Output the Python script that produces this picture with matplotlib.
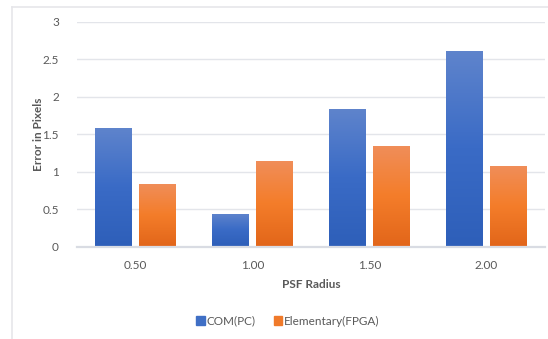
import numpy as np
import matplotlib
matplotlib.use("Agg")
import matplotlib.pyplot as plt
from matplotlib.colors import LinearSegmentedColormap
from matplotlib.patches import Rectangle

plt.rcParams['font.family'] = ['Lato', 'DejaVu Sans']

# PSF radius vs. centroid error
radius_labels = ["0.50", "1.00", "1.50", "2.00"]
com_pc = [1.59, 0.43, 1.84, 2.61]
elementary_fpga = [0.84, 1.14, 1.34, 1.08]

text_col = "#595959"
blue_cmap = LinearSegmentedColormap.from_list("blue_grad", ["#2e5fb9", "#3a6bc6", "#5f84cc"])
orange_cmap = LinearSegmentedColormap.from_list("orange_grad", ["#e2661a", "#f47d2a", "#f08e5a"])

fig = plt.figure(figsize=(5.48, 3.39), dpi=100)
ax = fig.add_axes([77 / 548, 1 - 246.5 / 339, 468 / 548, 224.5 / 339])

x = np.arange(len(radius_labels))
width = 0.315
offset = 0.19

grad = np.linspace(0, 1, 256).reshape(-1, 1)


def gradient_bars(xs, heights, cmap):
    bars = ax.bar(xs, heights, width, color="none", edgecolor="none", zorder=3)
    for b in bars:
        x0, y0 = b.get_x(), b.get_y()
        w, h = b.get_width(), b.get_height()
        im = ax.imshow(grad, extent=[x0, x0 + w, y0, y0 + h], origin="lower",
                       cmap=cmap, aspect="auto", zorder=3)
        clip = Rectangle((x0, y0), w, h, transform=ax.transData)
        im.set_clip_path(clip)
    return bars


gradient_bars(x - offset, com_pc, blue_cmap)
gradient_bars(x + offset, elementary_fpga, orange_cmap)

ax.set_xlim(-0.5, 3.5)
ax.set_ylim(0, 3)
ax.set_yticks([0, 0.5, 1, 1.5, 2, 2.5, 3])
ax.set_yticklabels(["0", "0.5", "1", "1.5", "2", "2.5", "3"])
ax.set_xticks(x)
ax.set_xticklabels(radius_labels)
ax.tick_params(axis="both", length=0, labelsize=8.5, colors=text_col)
ax.tick_params(axis="y", pad=13)
ax.tick_params(axis="x", pad=10)

ax.grid(axis="y", color="#e3e5ea", linewidth=1.0, zorder=0)
for s in ["top", "right", "left"]:
    ax.spines[s].set_visible(False)
ax.spines["bottom"].set_color("#d9dce3")
ax.spines["bottom"].set_linewidth(1.6)
ax.spines["bottom"].set_zorder(4)

fig.text(38 / 548, 1 - 134 / 339, "Error in Pixels", rotation=90, ha="center", va="center",
         fontsize=8.5, fontweight="bold", color=text_col)
fig.text(311 / 548, 1 - 284 / 339, "PSF Radius", ha="center", va="center",
         fontsize=8.5, fontweight="bold", color=text_col)

handles = [Rectangle((0, 0), 1, 1, color="#3f6fc5"), Rectangle((0, 0), 1, 1, color="#f07a2a")]
fig.legend(handles, ["COM(PC)", "Elementary(FPGA)"], loc="center",
           bbox_to_anchor=(288 / 548, 1 - 321 / 339), ncol=2, frameon=False,
           fontsize=8.5, labelcolor=text_col, handlelength=0.7, handleheight=0.7,
           handletextpad=0.2, columnspacing=1.5)

# outer chart frame (top and left edges show)
fig.add_artist(plt.Line2D([12 / 548, 1], [1 - 7 / 339, 1 - 7 / 339], transform=fig.transFigure,
                          color="#e6e6ea", linewidth=1.2))
fig.add_artist(plt.Line2D([12 / 548, 12 / 548], [0, 1 - 7 / 339], transform=fig.transFigure,
                          color="#e6e6ea", linewidth=1.2))

fig.savefig("out.png", dpi=100)
